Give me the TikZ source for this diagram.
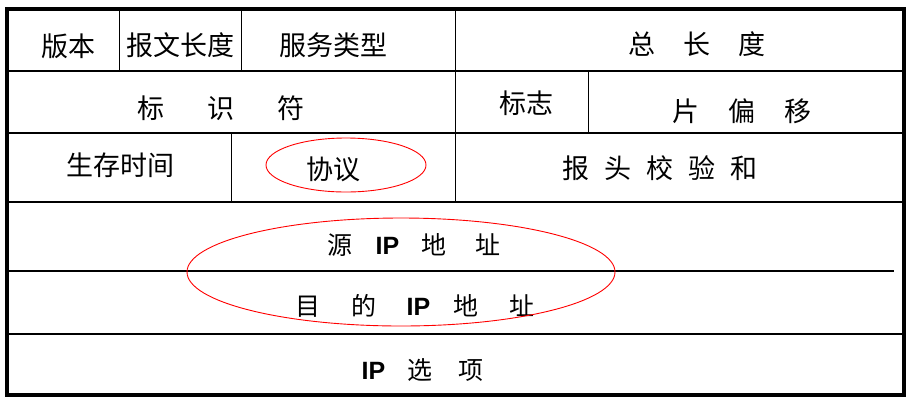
\documentclass[tikz,border=0pt]{standalone}
\usepackage{fontspec}
\setmainfont{Noto Sans CJK SC}
\newfontfamily\ipfont{Liberation Sans}
\newcommand{\myIP}{{\ipfont\bfseries IP}}
\begin{document}
\begin{tikzpicture}[x=1pt,y=-1pt,
  grid/.style={line width=1.2pt,black},
  frame/.style={line width=4pt,black},
  mark ring/.style={red,line width=0.9pt},
  big/.style={font=\fontsize{27}{30}\selectfont,inner sep=0pt,anchor=center},
  small/.style={font=\fontsize{25}{28}\selectfont,inner sep=0pt,anchor=center}]
\useasboundingbox (0,0) rectangle (917,408);
% grid lines
\draw[grid] (7,71) -- (903.7,71);
\draw[grid] (7,133) -- (903.7,133);
\draw[grid] (7,202) -- (903.7,202);
\draw[grid] (7,271) -- (894,271);
\draw[grid] (7,334) -- (903.7,334);
\draw[grid] (119.3,9) -- (119.3,71);
\draw[grid] (241.3,9) -- (241.3,71);
\draw[grid] (455.3,9) -- (455.3,202);
\draw[grid] (588.3,71) -- (588.3,133);
\draw[grid] (231.3,133) -- (231.3,202);
\draw[frame] (7,9) rectangle (903.7,395);
% texts
\node[big] (ver) at (68,46) {版本};
\node[big] (hlen) at (180,45.5) {报文长度};
\node[big] (tos) at (333,45.5) {服务类型};
\node[big] (tlen) at (697,44) {总\hspace{28pt}长\hspace{28pt}度};
\node[big] (id) at (221,108) {标\hspace{43pt}识\hspace{43pt}符};
\node[big] (flag) at (526,103) {标志};
\node[big] (frag) at (742,111) {片\hspace{29pt}偏\hspace{29pt}移};
\node[big] (ttl) at (120.5,165) {生存时间};
\node[big] (proto) at (333.5,169.5) {协议};
\node[big] (csum) at (660,168) {报\hspace{15pt}头\hspace{15pt}校\hspace{15pt}验\hspace{15pt}和};
\node[small] (src) at (414,245) {源\hspace{23pt}\myIP\hspace{22pt}地\hspace{29pt}址};
\node[small] (dst) at (415,306) {目\hspace{31pt}的\hspace{30pt}\myIP\hspace{23pt}地\hspace{31pt}址};
\node[small] (opt) at (422.5,370) {\myIP\hspace{22pt}选\hspace{26pt}项};
% red rings
\draw[mark ring] (346,165) ellipse [x radius=80pt, y radius=27pt];
\draw[mark ring] (401,272) ellipse [x radius=214pt, y radius=54pt];
\end{tikzpicture}
\end{document}
